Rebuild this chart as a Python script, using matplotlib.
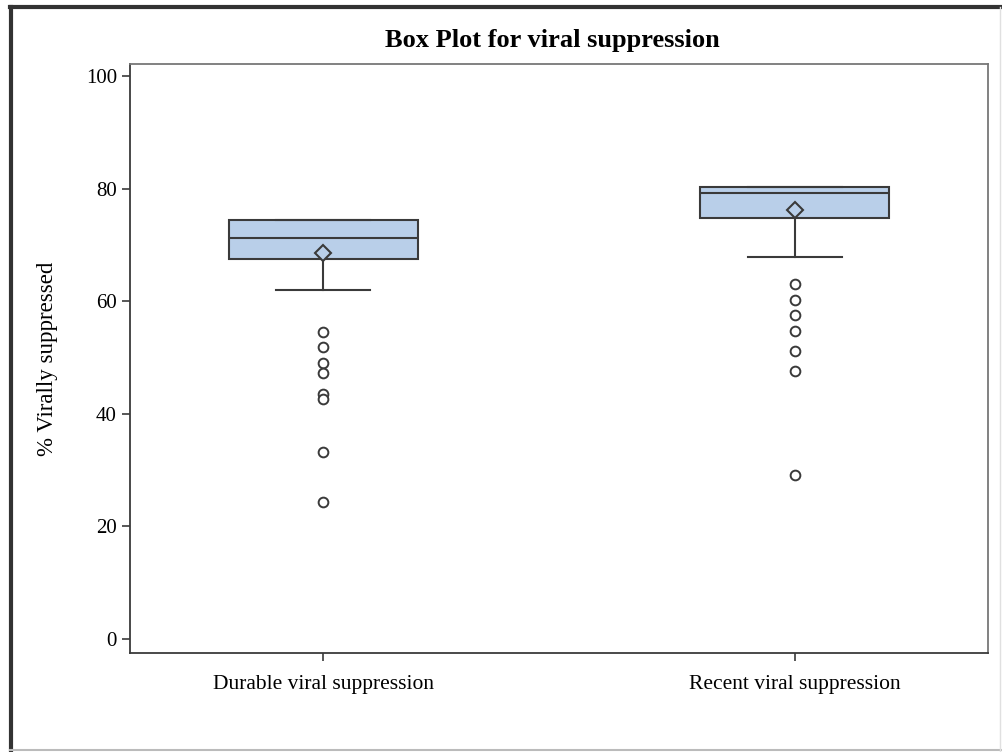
import matplotlib
matplotlib.use("Agg")
import matplotlib.pyplot as plt
from matplotlib.lines import Line2D

categories = ["Durable viral suppression", "Recent viral suppression"]
q1 = [67.6, 74.9]
median = [71.3, 79.3]
q3 = [74.5, 80.4]
mean = [68.6, 76.3]
whisker_low = [62.0, 67.9]
whisker_high = [74.5, 80.4]
outliers = [
    [54.5, 51.9, 49.0, 47.2, 43.6, 42.6, 33.2, 24.4],
    [63.1, 60.3, 57.6, 54.7, 51.2, 47.6, 29.1],
]
yticks = [0, 20, 40, 60, 80, 100]

plt.rcParams['font.family'] = ['Liberation Serif', 'DejaVu Serif']

fig = plt.figure(figsize=(10.03, 7.52), dpi=100)
ax = fig.add_axes([130/1003, 1 - 653/752, (988-130)/1003, (653-64)/752])

stats = []
for i, c in enumerate(categories):
    stats.append(dict(label=c, q1=q1[i], med=median[i], q3=q3[i], mean=mean[i],
                      whislo=whisker_low[i], whishi=whisker_high[i], fliers=outliers[i]))

edge = '#3a3a3a'
ax.bxp(stats, positions=[1, 2], widths=0.40, showmeans=True, patch_artist=True,
       boxprops=dict(facecolor='#b9cfe9', edgecolor=edge, linewidth=1.5),
       medianprops=dict(color=edge, linewidth=1.5),
       whiskerprops=dict(color=edge, linewidth=1.5),
       capprops=dict(color=edge, linewidth=1.5),
       capwidths=0.2,
       meanprops=dict(marker='D', markerfacecolor='#b9cfe9', markeredgecolor=edge,
                      markersize=8.5, markeredgewidth=1.5),
       flierprops=dict(marker='o', markerfacecolor='white', markeredgecolor=edge,
                       markersize=7, markeredgewidth=1.4))

ax.set_xlim(0.59, 2.41)
ax.set_ylim(-2.5, 102.2)
ax.set_yticks(yticks)
ax.set_yticklabels([str(t) for t in yticks])
ax.set_xticks([1, 2])
ax.set_xticklabels(categories)
ax.tick_params(axis='both', length=6, width=1.2, color=edge)
ax.tick_params(axis='y', labelsize=15)
ax.tick_params(axis='x', labelsize=15.5, pad=10)
for s in ax.spines.values():
    s.set_color(edge)
    s.set_linewidth(1.3)
for s in ['top', 'right']:
    ax.spines[s].set_color('#777777')

ax.set_ylabel('% Virally suppressed', fontsize=16.5, labelpad=20)
fig.text(552/1003, 1 - 40/752, 'Box Plot for viral suppression', ha='center', va='center',
         fontsize=19, fontweight='bold')

# outer frame
fig.add_artist(Line2D([10/1003, 1.0], [1 - 7/752]*2, color='#333333', linewidth=3, transform=fig.transFigure))
fig.add_artist(Line2D([11/1003]*2, [0, 1 - 7/752], color='#333333', linewidth=3, transform=fig.transFigure))
fig.add_artist(Line2D([10/1003, 1.0], [2/752]*2, color='#bbbbbb', linewidth=1.5, transform=fig.transFigure))
fig.add_artist(Line2D([1000/1003]*2, [0, 1 - 7/752], color='#e0e0e0', linewidth=1, transform=fig.transFigure))

fig.savefig('out.png', dpi=100)
